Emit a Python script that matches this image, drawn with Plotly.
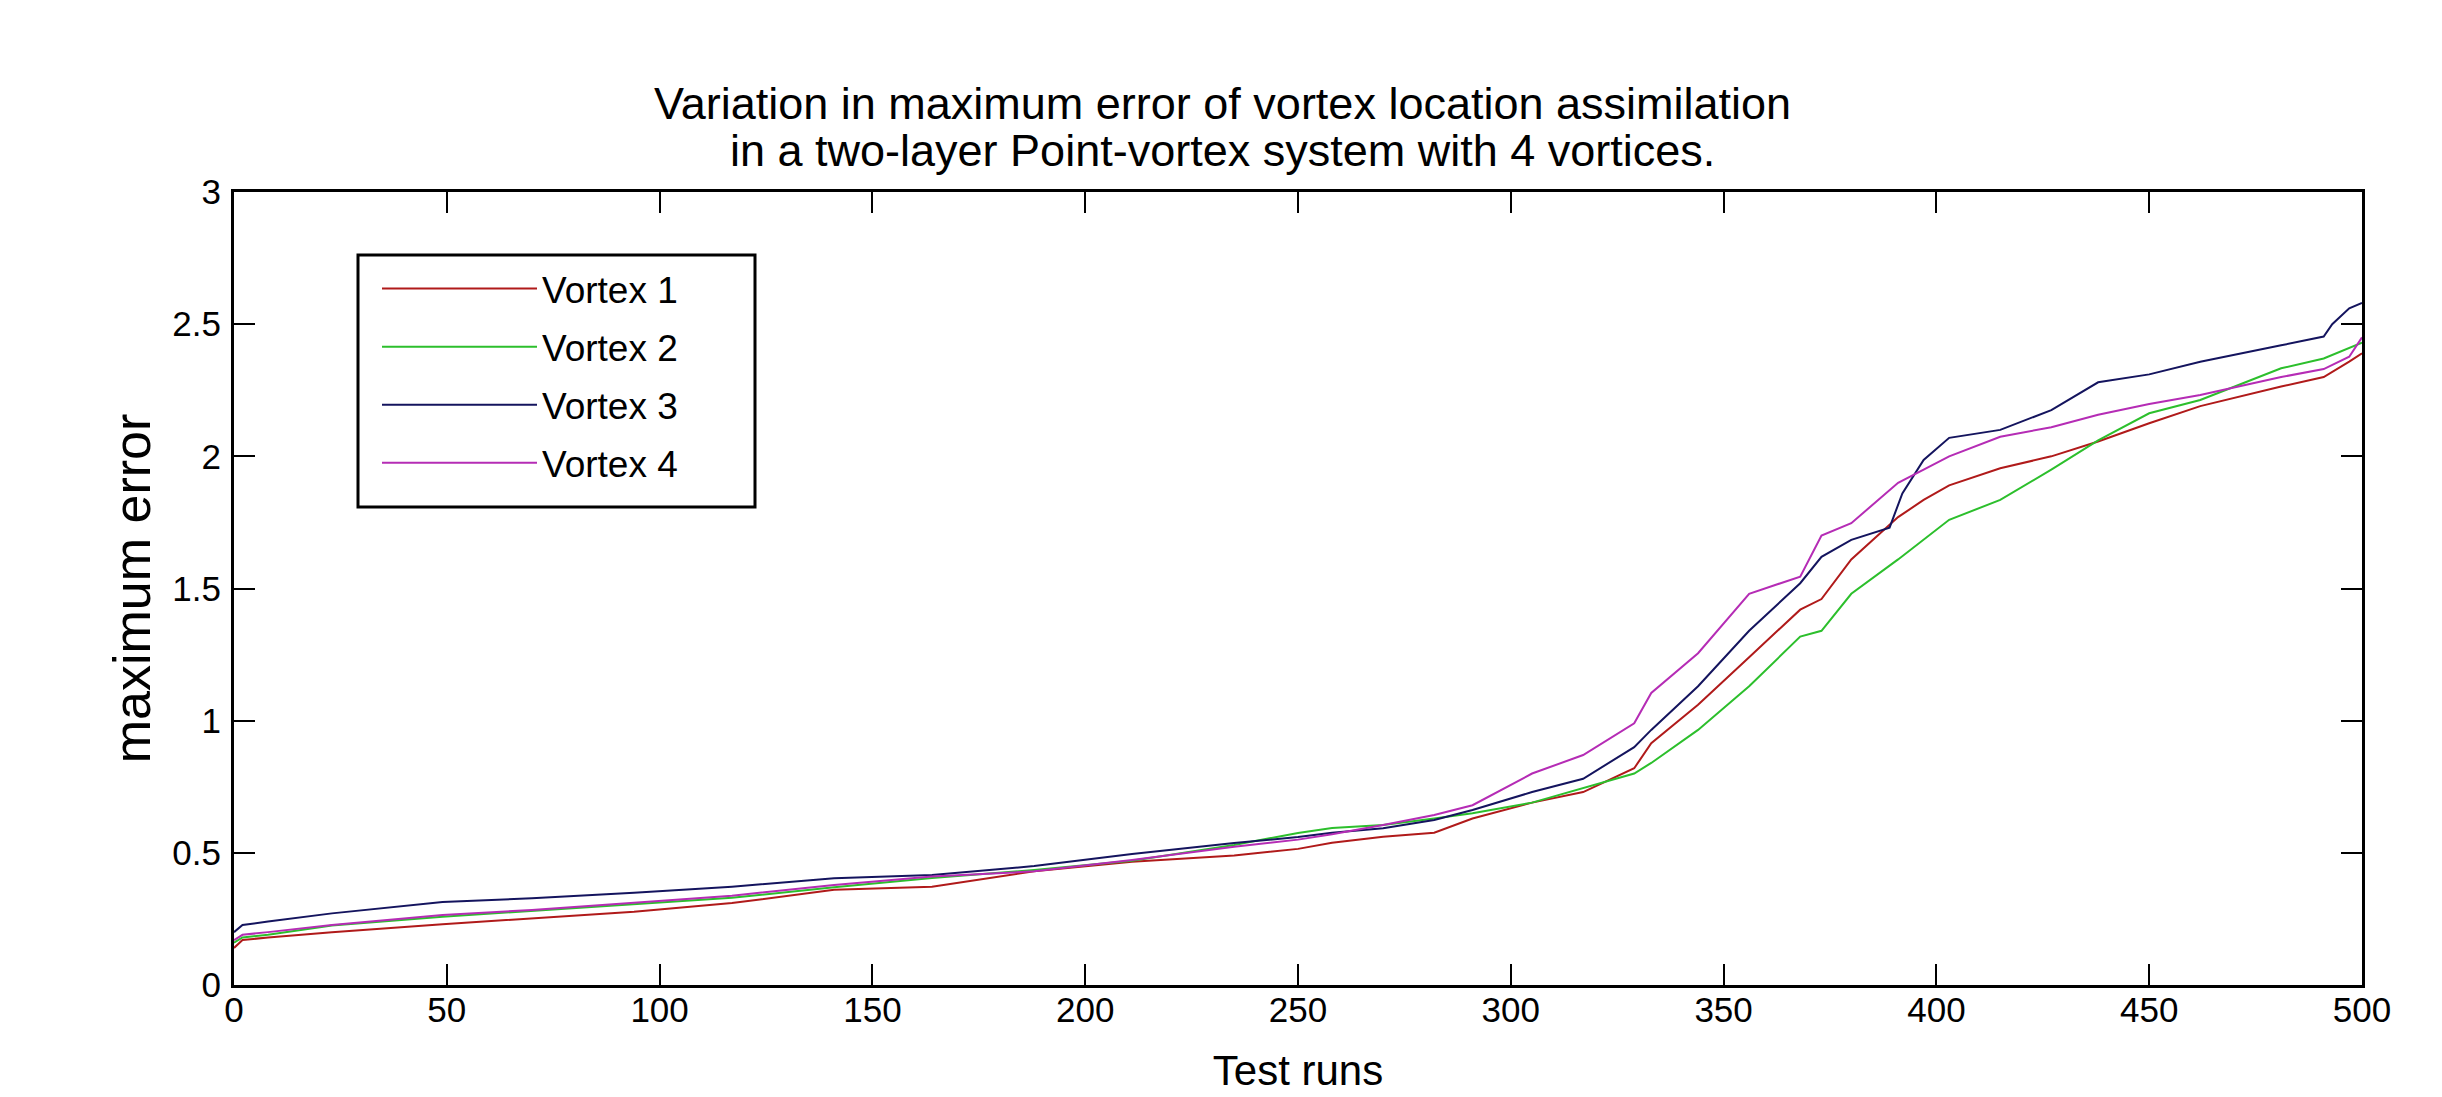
import plotly.graph_objects as go

# Test-run positions where the curves were read (sorted runs)
runs_v1 = [0, 2, 8, 23, 49, 70, 94, 117, 141, 164, 188, 211, 235, 250, 258, 270, 282, 291,
           305, 317, 329, 333, 344, 356, 368, 373, 380, 391, 397, 403, 415, 427, 438, 450,
           462, 481, 491, 497, 500]
err_v1 = [0.14, 0.17, 0.18, 0.20, 0.23, 0.252, 0.277, 0.31, 0.36, 0.372, 0.43, 0.466, 0.49,
          0.515, 0.538, 0.561, 0.576, 0.63, 0.69, 0.73, 0.82, 0.915, 1.06, 1.24, 1.42, 1.46,
          1.61, 1.77, 1.835, 1.89, 1.955, 2.0, 2.056, 2.125, 2.19, 2.264, 2.30, 2.358, 2.39]

runs_v2 = [0, 2, 8, 23, 49, 70, 94, 117, 141, 164, 188, 211, 235, 250, 258, 270, 282, 291,
           305, 317, 329, 333, 344, 356, 368, 373, 380, 391, 397, 403, 415, 427, 438, 450,
           462, 481, 491, 497, 500]
err_v2 = [0.16, 0.18, 0.19, 0.225, 0.258, 0.28, 0.305, 0.33, 0.37, 0.405, 0.435, 0.47, 0.53,
          0.575, 0.594, 0.605, 0.63, 0.65, 0.69, 0.745, 0.80, 0.84, 0.965, 1.13, 1.318, 1.34,
          1.48, 1.61, 1.684, 1.76, 1.835, 1.95, 2.06, 2.163, 2.213, 2.333, 2.37, 2.41, 2.43]

runs_v3 = [0, 2, 8, 23, 49, 70, 94, 117, 141, 164, 188, 211, 235, 250, 258, 270, 282, 291,
           305, 317, 329, 333, 344, 356, 368, 373, 380, 389, 392, 397, 403, 415, 427, 438,
           450, 462, 481, 491, 493, 497, 500]
err_v3 = [0.20, 0.227, 0.24, 0.271, 0.314, 0.328, 0.349, 0.372, 0.404, 0.416, 0.45, 0.496,
          0.537, 0.56, 0.576, 0.593, 0.624, 0.662, 0.73, 0.78, 0.90, 0.965, 1.13, 1.34, 1.52,
          1.62, 1.684, 1.73, 1.86, 1.986, 2.07, 2.10, 2.175, 2.28, 2.31, 2.358, 2.42, 2.453,
          2.50, 2.56, 2.58]

runs_v4 = [0, 2, 8, 23, 49, 70, 94, 117, 141, 164, 188, 211, 235, 250, 258, 270, 282, 291,
           305, 317, 329, 333, 344, 356, 368, 373, 380, 391, 397, 403, 415, 427, 438, 450,
           462, 481, 491, 497, 500]
err_v4 = [0.17, 0.19, 0.20, 0.227, 0.265, 0.284, 0.311, 0.338, 0.378, 0.41, 0.43, 0.473,
          0.523, 0.55, 0.57, 0.605, 0.643, 0.68, 0.80, 0.87, 0.99, 1.105, 1.255, 1.48, 1.545,
          1.70, 1.747, 1.90, 1.95, 2.0, 2.074, 2.11, 2.157, 2.198, 2.232, 2.30, 2.33, 2.377,
          2.45]

series_names = ["Vortex 1", "Vortex 2", "Vortex 3", "Vortex 4"]
series_colors = ["#b01a1a", "#2cbf2c", "#14145e", "#b52cb5"]

x_ticks = [0, 50, 100, 150, 200, 250, 300, 350, 400, 450, 500]
y_ticks = [0, 0.5, 1, 1.5, 2, 2.5, 3]
y_tick_labels = ["0", "0.5", "1", "1.5", "2", "2.5", "3"]

title_lines = ["Variation in maximum error of vortex location assimilation",
               "in a two-layer Point-vortex system with 4 vortices."]

FONT = "Liberation Sans, Arial, sans-serif"

# page pixel geometry of the plot area (the page body adds an 8px offset)
PL, PR, PT, PB = 234, 2362, 192, 985
OFF = 8
W, H = 2442, 1097


def px_x(px):
    return (px - PL) / (PR - PL)


def px_y(py):
    return (PB - py) / (PB - PT)


fig = go.Figure()
for i, (xs, ys, name, col) in enumerate(zip([runs_v1, runs_v2, runs_v3, runs_v4],
                                            [err_v1, err_v2, err_v3, err_v4],
                                            series_names, series_colors)):
    fig.add_trace(go.Scatter(x=xs, y=ys, mode="lines", name=name, legendgroup=f"g{i}",
                             line=dict(color=col, width=2)))

axis_common = dict(showline=True, linecolor="black", linewidth=3, mirror="allticks",
                   ticks="inside", ticklen=21, tickwidth=2, tickcolor="black",
                   showgrid=False, zeroline=False, automargin=False,
                   tickfont=dict(family=FONT, size=35, color="black"))

fig.update_xaxes(range=[0, 500], tickvals=x_ticks, ticklabelstandoff=-8,
                 title=dict(text="Test runs", font=dict(family=FONT, size=42, color="black"),
                            standoff=28),
                 **axis_common)
fig.update_yaxes(range=[0, 3], tickvals=y_ticks, ticktext=y_tick_labels, ticklabelstandoff=3,
                 title=dict(text="maximum error", font=dict(family=FONT, size=52, color="black"),
                            standoff=6),
                 **axis_common)

# Two-line title placed as annotations
for txt, ypx in zip(title_lines, [104, 150]):
    fig.add_annotation(text=txt, xref="paper", yref="paper", x=px_x(1222), y=px_y(ypx),
                       xanchor="center", yanchor="middle", showarrow=False,
                       font=dict(family=FONT, size=45, color="black"))

# legend frame
fig.add_shape(type="rect", xref="paper", yref="paper",
              x0=px_x(358), x1=px_x(755), y0=px_y(507), y1=px_y(255),
              line=dict(color="black", width=3), fillcolor="white", layer="above")

fig.update_layout(
    width=W, height=H,
    margin=dict(l=PL - OFF, r=W - PR + OFF, t=PT - OFF, b=H - PB + OFF),
    paper_bgcolor="white", plot_bgcolor="white",
    legend=dict(x=px_x(377), y=px_y(258), xanchor="left", yanchor="top",
                bgcolor="rgba(0,0,0,0)", borderwidth=0,
                font=dict(family=FONT, size=37, color="black"),
                itemwidth=155, tracegroupgap=7),
    showlegend=True,
)

fig.write_html("out.html")
